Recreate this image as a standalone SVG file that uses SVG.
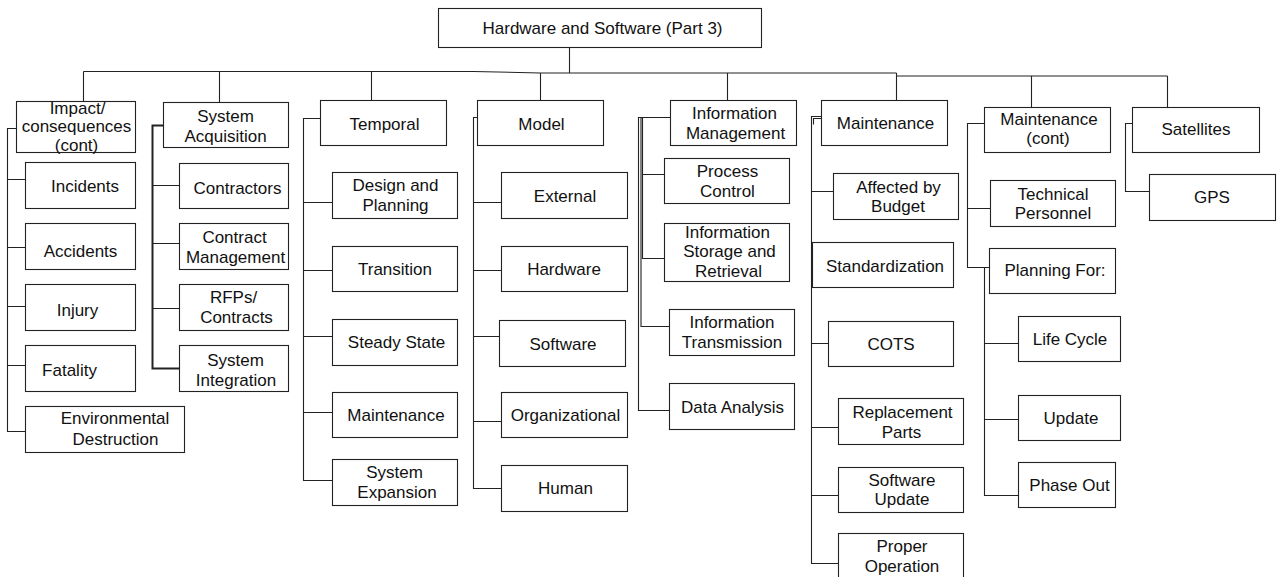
<svg xmlns="http://www.w3.org/2000/svg" width="1281" height="577" viewBox="0 0 1281 577">
  <style>
    .box { fill: #ffffff; stroke: #222222; stroke-width: 1.1; }
    .wire { fill: none; stroke: #222222; stroke-width: 1.1; }
    .bold { stroke-width: 2; }
    text { font-family: "Liberation Sans", Arial, sans-serif; font-size: 17px; fill: #111111; text-anchor: middle; }
  </style>
  <rect width="1281" height="577" fill="#ffffff"/>
  <g transform="translate(0.5,0.5)">
    <!-- connectors -->
    <g id="connectors">
      <!-- root to top-level bus -->
      <path class="wire" d="M569,47 V72.5"/>
      <path class="wire" d="M83,71 H473 L540,72.5 H896"/>
      <path class="wire" d="M896,75.5 H1167"/>
      <path class="wire" d="M83,71 V101 M219,71 V102 M371,71 V100 M540,72.5 V100 M727,72.5 V100 M896,72.5 V100 M1031,75.5 V107 M1167,75.5 V107"/>
      <!-- Impact/consequences branch -->
      <path class="wire" d="M16,128 H7 V431 H25 M7,179 H25 M7,247 H25 M7,306 H25 M7,365 H25"/>
      <!-- System Acquisition branch -->
      <path class="wire bold" d="M163,125 H152 V368 H179"/>
      <path class="wire" d="M152,185 H179 M152,243 H179 M152,308 H179"/>
      <!-- Temporal branch -->
      <path class="wire" d="M320,118 H303 V480 H332 M303,202 H332 M303,270 H332 M303,336 H332 M303,412 H332"/>
      <!-- Model branch -->
      <path class="wire" d="M477,117 H473 V488 H501 M473,202 H501 M473,270 H501 M473,336 H499 M473,421 H501"/>
      <!-- Information Management branch -->
      <path class="wire" d="M670,117 H638 V410 H669"/>
      <path class="wire" d="M642,117 V258 H664 M642,174 H664"/>
      <path class="wire" d="M640.5,117 V326 H669"/>
      <!-- Maintenance branch -->
      <path class="wire" d="M821,116 H811 V563 H838"/>
      <path class="wire" d="M821,118 H813 V124"/>
      <path class="wire" d="M811,191 H833 M811,343 H828 M811,427 H838 M811,495 H838"/>
      <!-- Maintenance (cont) branch -->
      <path class="wire" d="M990,123 H967 V267 H989 M967,208 H990"/>
      <path class="wire" d="M984,267 V495 H1018 M984,343 H1018 M984,419 H1018"/>
      <!-- Satellites branch -->
      <path class="wire" d="M1132,123 H1125 V191 H1149"/>
    </g>

    <g id="root">
      <rect class="box" x="438" y="8" width="323" height="39"/>
      <text x="602" y="33.5">Hardware and Software (Part 3)</text>
    </g>

    <!-- Impact/consequences column -->
    <g id="impact">
      <rect class="box" x="16" y="101" width="119" height="51"/>
      <text x="77" y="113.5">Impact/</text>
      <text x="76" y="131.5">consequences</text>
      <text x="76" y="150">(cont)</text>
    </g>
    <g id="incidents">
      <rect class="box" x="25" y="162" width="110" height="46"/>
      <text x="84.5" y="191.5">Incidents</text>
    </g>
    <g id="accidents">
      <rect class="box" x="25" y="223" width="110" height="46"/>
      <text x="80" y="256">Accidents</text>
    </g>
    <g id="injury">
      <rect class="box" x="25" y="284" width="110" height="46"/>
      <text x="77" y="315">Injury</text>
    </g>
    <g id="fatality">
      <rect class="box" x="25" y="345" width="110" height="46"/>
      <text x="69" y="375.5">Fatality</text>
    </g>
    <g id="environmental-destruction">
      <rect class="box" x="25" y="406" width="159" height="46"/>
      <text x="114.5" y="423.5">Environmental</text>
      <text x="115" y="444.5">Destruction</text>
    </g>

    <!-- System Acquisition column -->
    <g id="system-acquisition">
      <rect class="box" x="163" y="102" width="125" height="45"/>
      <text x="225" y="121">System</text>
      <text x="225" y="141.5">Acquisition</text>
    </g>
    <g id="contractors">
      <rect class="box" x="179" y="163" width="109" height="45"/>
      <text x="237" y="193.5">Contractors</text>
    </g>
    <g id="contract-management">
      <rect class="box" x="179" y="223" width="109" height="46"/>
      <text x="234" y="242">Contract</text>
      <text x="235" y="262">Management</text>
    </g>
    <g id="rfps-contracts">
      <rect class="box" x="179" y="284" width="109" height="46"/>
      <text x="233" y="302.5">RFPs/</text>
      <text x="236" y="322">Contracts</text>
    </g>
    <g id="system-integration">
      <rect class="box" x="179" y="345" width="109" height="46"/>
      <text x="235" y="365">System</text>
      <text x="235.5" y="385">Integration</text>
    </g>

    <!-- Temporal column -->
    <g id="temporal">
      <rect class="box" x="320" y="100" width="126" height="45"/>
      <text x="384" y="129">Temporal</text>
    </g>
    <g id="design-planning">
      <rect class="box" x="332" y="172" width="125" height="46"/>
      <text x="395" y="190.5">Design and</text>
      <text x="395" y="210.5">Planning</text>
    </g>
    <g id="transition">
      <rect class="box" x="332" y="246" width="125" height="45"/>
      <text x="394.5" y="274.5">Transition</text>
    </g>
    <g id="steady-state">
      <rect class="box" x="332" y="319" width="125" height="46"/>
      <text x="396" y="347.5">Steady State</text>
    </g>
    <g id="maintenance-temporal">
      <rect class="box" x="332" y="392" width="125" height="45"/>
      <text x="395.5" y="420">Maintenance</text>
    </g>
    <g id="system-expansion">
      <rect class="box" x="332" y="459" width="125" height="46"/>
      <text x="394" y="477">System</text>
      <text x="396.5" y="497">Expansion</text>
    </g>

    <!-- Model column -->
    <g id="model">
      <rect class="box" x="477" y="100" width="126" height="45"/>
      <text x="541" y="129">Model</text>
    </g>
    <g id="external">
      <rect class="box" x="501" y="172" width="126" height="46"/>
      <text x="564.5" y="201.5">External</text>
    </g>
    <g id="hardware">
      <rect class="box" x="501" y="246" width="126" height="45"/>
      <text x="563.5" y="274">Hardware</text>
    </g>
    <g id="software">
      <rect class="box" x="499" y="320" width="126" height="46"/>
      <text x="562.5" y="349">Software</text>
    </g>
    <g id="organizational">
      <rect class="box" x="501" y="392" width="126" height="45"/>
      <text x="565" y="420">Organizational</text>
    </g>
    <g id="human">
      <rect class="box" x="501" y="465" width="126" height="46"/>
      <text x="565" y="493.5">Human</text>
    </g>

    <!-- Information Management column -->
    <g id="information-management">
      <rect class="box" x="670" y="100" width="126" height="45"/>
      <text x="734" y="118.5">Information</text>
      <text x="735" y="138">Management</text>
    </g>
    <g id="process-control">
      <rect class="box" x="664" y="158" width="125" height="45"/>
      <text x="727" y="176.5">Process</text>
      <text x="727" y="196">Control</text>
    </g>
    <g id="information-storage">
      <rect class="box" x="664" y="223" width="125" height="58"/>
      <text x="727" y="237">Information</text>
      <text x="729" y="256.5">Storage and</text>
      <text x="728" y="276.5">Retrieval</text>
    </g>
    <g id="information-transmission">
      <rect class="box" x="669" y="309" width="125" height="46"/>
      <text x="731.5" y="327.5">Information</text>
      <text x="731.5" y="347">Transmission</text>
    </g>
    <g id="data-analysis">
      <rect class="box" x="669" y="383" width="125" height="46"/>
      <text x="732" y="412">Data Analysis</text>
    </g>

    <!-- Maintenance column -->
    <g id="maintenance">
      <rect class="box" x="821" y="100" width="126" height="45"/>
      <text x="885" y="128.5">Maintenance</text>
    </g>
    <g id="affected-by-budget">
      <rect class="box" x="833" y="173" width="125" height="46"/>
      <text x="898" y="192">Affected by</text>
      <text x="897.5" y="211">Budget</text>
    </g>
    <g id="standardization">
      <rect class="box" x="812" y="242" width="141" height="45"/>
      <text x="884.5" y="271">Standardization</text>
    </g>
    <g id="cots">
      <rect class="box" x="828" y="321" width="125" height="45"/>
      <text x="890.5" y="349.5">COTS</text>
    </g>
    <g id="replacement-parts">
      <rect class="box" x="838" y="398" width="125" height="46"/>
      <text x="902" y="417.5">Replacement</text>
      <text x="901" y="437">Parts</text>
    </g>
    <g id="software-update">
      <rect class="box" x="838" y="467" width="125" height="45"/>
      <text x="901.5" y="485">Software</text>
      <text x="901.5" y="504.5">Update</text>
    </g>
    <g id="proper-operation">
      <rect class="box" x="838" y="533" width="125" height="50"/>
      <text x="901.5" y="551.5">Proper</text>
      <text x="901.5" y="571">Operation</text>
    </g>

    <!-- Maintenance (cont) column -->
    <g id="maintenance-cont">
      <rect class="box" x="984" y="107" width="126" height="45"/>
      <text x="1048.5" y="124">Maintenance</text>
      <text x="1047.5" y="143.5">(cont)</text>
    </g>
    <g id="technical-personnel">
      <rect class="box" x="990" y="180" width="125" height="46"/>
      <text x="1052.5" y="199">Technical</text>
      <text x="1052.5" y="218.5">Personnel</text>
    </g>
    <g id="planning-for">
      <rect class="box" x="989" y="248" width="126" height="45"/>
      <text x="1054.5" y="275">Planning For:</text>
    </g>
    <g id="life-cycle">
      <rect class="box" x="1018" y="316" width="102" height="45"/>
      <text x="1069.5" y="344.5">Life Cycle</text>
    </g>
    <g id="update">
      <rect class="box" x="1018" y="395" width="102" height="45"/>
      <text x="1070.5" y="423.5">Update</text>
    </g>
    <g id="phase-out">
      <rect class="box" x="1018" y="462" width="97" height="45"/>
      <text x="1069" y="490">Phase Out</text>
    </g>

    <!-- Satellites column -->
    <g id="satellites">
      <rect class="box" x="1132" y="107" width="127" height="45"/>
      <text x="1195.5" y="134">Satellites</text>
    </g>
    <g id="gps">
      <rect class="box" x="1149" y="174" width="126" height="46"/>
      <text x="1211.5" y="202.5">GPS</text>
    </g>
  </g>
</svg>
